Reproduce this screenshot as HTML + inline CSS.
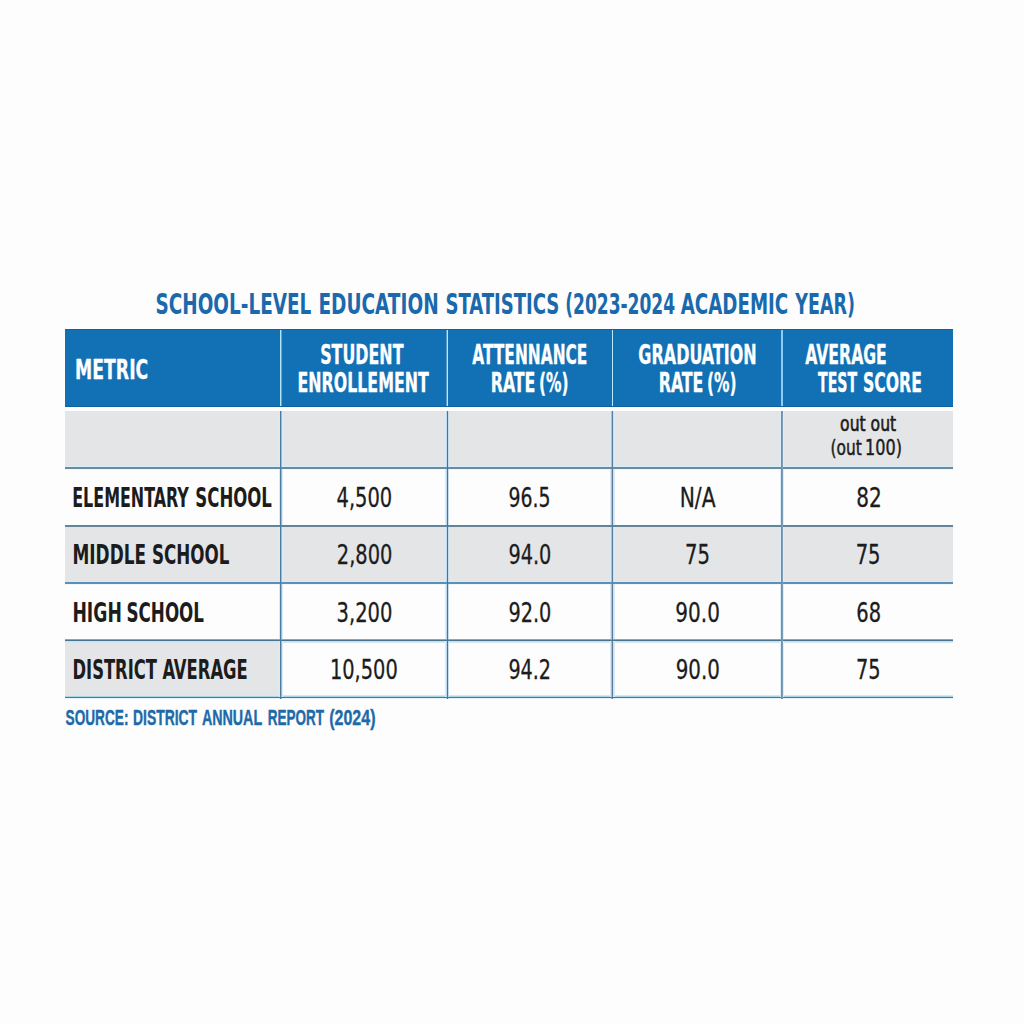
<!DOCTYPE html>
<html><head><meta charset="utf-8"><title>School-Level Education Statistics</title>
<style>
html,body{margin:0;padding:0;background:#fdfdfd;}
body{width:1024px;height:1024px;overflow:hidden;}
svg{display:block;font-family:"Liberation Sans",Arial,sans-serif;}
.b{font-family:"DejaVu Sans Condensed","DejaVu Sans","Liberation Sans",sans-serif;font-weight:bold;font-stretch:condensed;}
.r{font-family:"Liberation Sans",Arial,sans-serif;font-weight:normal;}
.lb{font-family:"Liberation Sans",Arial,sans-serif;font-weight:bold;}
.dr{font-family:"DejaVu Sans Condensed","DejaVu Sans",sans-serif;font-weight:normal;font-stretch:condensed;}
</style></head><body>
<svg width="1024" height="1024" viewBox="0 0 1024 1024">
<rect width="1024" height="1024" fill="#fdfdfd"/>
<g shape-rendering="crispEdges">
<rect x="65" y="329" width="888" height="78" fill="#1271b5"/>
<rect x="65" y="329" width="888" height="1" fill="#1063a0"/>
<rect x="65" y="406" width="888" height="1" fill="#0f609d"/>
<rect x="280" y="330" width="1" height="76" fill="#b0e4f8"/>
<rect x="281" y="330" width="1" height="76" fill="#6aa0cc"/>
<rect x="447" y="330" width="1" height="76" fill="#b5e8f8"/>
<rect x="446" y="330" width="1" height="76" fill="#5c9ccb"/>
<rect x="612" y="330" width="1" height="76" fill="#b8ecfa"/>
<rect x="781" y="330" width="1" height="76" fill="#8ccdf8"/>
<rect x="782" y="330" width="1" height="76" fill="#8ccdf8"/>
<rect x="65" y="411" width="888" height="55" fill="#e4e5e7"/>
<rect x="65" y="528" width="888" height="53" fill="#e4e5e7"/>
<rect x="65" y="642.5" width="214" height="52.5" fill="#e4e5e7"/>
<rect x="65" y="466" width="888" height="1" fill="#d8eef8"/>
<rect x="65" y="467" width="888" height="1" fill="#6a8ca3"/>
<rect x="65" y="468" width="888" height="1" fill="#688ba2"/>
<rect x="65" y="469" width="888" height="1" fill="#f0f8fb"/>
<rect x="65" y="525" width="888" height="1" fill="#5f8499"/>
<rect x="65" y="526" width="888" height="1" fill="#628799"/>
<rect x="65" y="527" width="888" height="1" fill="#d5e9f3"/>
<rect x="65" y="581" width="888" height="1" fill="#dbeaf5"/>
<rect x="65" y="582" width="888" height="1" fill="#5b8fb3"/>
<rect x="65" y="583" width="888" height="1" fill="#5e90b2"/>
<rect x="65" y="584" width="888" height="1" fill="#eef7fb"/>
<rect x="65" y="639" width="888" height="1" fill="#8aa8b8"/>
<rect x="65" y="640" width="888" height="1" fill="#4a7590"/>
<rect x="65" y="641" width="888" height="1" fill="#c3e2f5"/>
<rect x="65" y="642" width="888" height="1" fill="#d8e6ee"/>
<rect x="65" y="695" width="888" height="1" fill="#d5e8f2"/>
<rect x="65" y="696" width="888" height="1" fill="#a8d5ea"/>
<rect x="65" y="697" width="888" height="1" fill="#4a7b92"/>
<rect x="65" y="698" width="888" height="1" fill="#e8f2f8"/>
<rect x="279" y="411" width="1" height="288" fill="#dde9f3"/>
<rect x="281" y="411" width="1" height="288" fill="#8fc0e0"/>
<rect x="282" y="411" width="1" height="288" fill="#dde9f3"/>
<rect x="445" y="411" width="1" height="288" fill="#dceaf5"/>
<rect x="446" y="411" width="1" height="288" fill="#b8dcf5"/>
<rect x="448" y="411" width="1" height="288" fill="#c8dbe8"/>
<rect x="610" y="411" width="1" height="288" fill="#dde9f4"/>
<rect x="611" y="411" width="1" height="288" fill="#a9bfd3"/>
<rect x="613" y="411" width="1" height="288" fill="#c5e4fa"/>
<rect x="614" y="411" width="1" height="288" fill="#dde9f4"/>
<rect x="780" y="411" width="1" height="288" fill="#dceefa"/>
<rect x="783" y="411" width="1" height="288" fill="#dceefa"/>
<rect x="65" y="467" width="888" height="1" fill="#6a8ca3"/>
<rect x="65" y="468" width="888" height="1" fill="#688ba2"/>
<rect x="65" y="525" width="888" height="1" fill="#5f8499"/>
<rect x="65" y="526" width="888" height="1" fill="#628799"/>
<rect x="65" y="582" width="888" height="1" fill="#5b8fb3"/>
<rect x="65" y="583" width="888" height="1" fill="#5e90b2"/>
<rect x="65" y="639" width="888" height="1" fill="#8aa8b8"/>
<rect x="65" y="640" width="888" height="1" fill="#4a7590"/>
<rect x="65" y="697" width="888" height="1" fill="#4a7b92"/>
<rect x="280" y="411" width="1" height="288" fill="#4a7ba0"/>
<rect x="447" y="411" width="1" height="288" fill="#4a7494"/>
<rect x="612" y="411" width="1" height="288" fill="#5a7f9c"/>
<rect x="781" y="411" width="1" height="288" fill="#7090a8"/>
<rect x="782" y="411" width="1" height="288" fill="#7d9cb5"/>
</g>
<text class="b" x="155.52" y="313.70" textLength="155.80" lengthAdjust="spacingAndGlyphs" font-size="27.78" fill="#1a69ac">SCHOOL-LEVEL</text>
<text class="b" x="318.39" y="313.70" textLength="120.28" lengthAdjust="spacingAndGlyphs" font-size="27.78" fill="#1a69ac">EDUCATION</text>
<text class="b" x="445.44" y="313.70" textLength="113.94" lengthAdjust="spacingAndGlyphs" font-size="27.78" fill="#1a69ac">STATISTICS</text>
<text class="b" x="565.21" y="313.70" textLength="109.90" lengthAdjust="spacingAndGlyphs" font-size="27.78" fill="#1a69ac">(2023-2024</text>
<text class="b" x="680.70" y="313.70" textLength="107.53" lengthAdjust="spacingAndGlyphs" font-size="27.78" fill="#1a69ac">ACADEMIC</text>
<text class="b" x="795.30" y="313.70" textLength="59.61" lengthAdjust="spacingAndGlyphs" font-size="27.78" fill="#1a69ac">YEAR)</text>
<text class="b" x="75.10" y="378.50" textLength="73.17" lengthAdjust="spacingAndGlyphs" font-size="27.23" fill="#fff" stroke="#fff" stroke-width="0.3" stroke-linejoin="round">METRIC</text>
<text class="b" x="320.20" y="364.10" textLength="83.28" lengthAdjust="spacingAndGlyphs" font-size="25.74" fill="#fff" stroke="#fff" stroke-width="0.3" stroke-linejoin="round">STUDENT</text>
<text class="b" x="297.43" y="391.80" textLength="131.35" lengthAdjust="spacingAndGlyphs" font-size="25.87" fill="#fff" stroke="#fff" stroke-width="0.3" stroke-linejoin="round">ENROLLEMENT</text>
<text class="b" x="472.30" y="364.10" textLength="115.10" lengthAdjust="spacingAndGlyphs" font-size="25.74" fill="#fff" stroke="#fff" stroke-width="0.3" stroke-linejoin="round">ATTENNANCE</text>
<text class="b" x="490.73" y="391.80" textLength="44.69" lengthAdjust="spacingAndGlyphs" font-size="25.87" fill="#fff" stroke="#fff" stroke-width="0.3" stroke-linejoin="round">RATE</text>
<text class="b" x="538.93" y="391.80" textLength="29.52" lengthAdjust="spacingAndGlyphs" font-size="25.87" fill="#fff" stroke="#fff" stroke-width="0.3" stroke-linejoin="round">(%)</text>
<text class="b" x="638.34" y="364.10" textLength="118.30" lengthAdjust="spacingAndGlyphs" font-size="25.74" fill="#fff" stroke="#fff" stroke-width="0.3" stroke-linejoin="round">GRADUATION</text>
<text class="b" x="658.73" y="391.80" textLength="44.69" lengthAdjust="spacingAndGlyphs" font-size="25.87" fill="#fff" stroke="#fff" stroke-width="0.3" stroke-linejoin="round">RATE</text>
<text class="b" x="706.93" y="391.80" textLength="29.52" lengthAdjust="spacingAndGlyphs" font-size="25.87" fill="#fff" stroke="#fff" stroke-width="0.3" stroke-linejoin="round">(%)</text>
<text class="b" x="805.30" y="364.10" textLength="81.51" lengthAdjust="spacingAndGlyphs" font-size="25.74" fill="#fff" stroke="#fff" stroke-width="0.3" stroke-linejoin="round">AVERAGE</text>
<text class="b" x="818.00" y="391.80" textLength="39.27" lengthAdjust="spacingAndGlyphs" font-size="25.87" fill="#fff" stroke="#fff" stroke-width="0.3" stroke-linejoin="round">TEST</text>
<text class="b" x="862.91" y="391.80" textLength="59.00" lengthAdjust="spacingAndGlyphs" font-size="25.87" fill="#fff" stroke="#fff" stroke-width="0.3" stroke-linejoin="round">SCORE</text>
<text class="dr" x="840.09" y="430.90" textLength="25.57" lengthAdjust="spacingAndGlyphs" font-size="21.76" fill="#1c1c1c" stroke="#1c1c1c" stroke-width="0.6" stroke-linejoin="round">out</text>
<text class="dr" x="870.59" y="430.90" textLength="25.57" lengthAdjust="spacingAndGlyphs" font-size="21.76" fill="#1c1c1c" stroke="#1c1c1c" stroke-width="0.6" stroke-linejoin="round">out</text>
<text class="dr" x="830.53" y="455.30" textLength="31.22" lengthAdjust="spacingAndGlyphs" font-size="21.79" fill="#1c1c1c" stroke="#1c1c1c" stroke-width="0.45" stroke-linejoin="round">(out</text>
<text class="dr" x="865.03" y="455.30" textLength="36.92" lengthAdjust="spacingAndGlyphs" font-size="21.79" fill="#1c1c1c" stroke="#1c1c1c" stroke-width="0.45" stroke-linejoin="round">100)</text>
<text class="b" x="72.22" y="506.70" textLength="116.62" lengthAdjust="spacingAndGlyphs" font-size="26.14" fill="#1c1c1c">ELEMENTARY</text>
<text class="b" x="195.35" y="506.70" textLength="76.55" lengthAdjust="spacingAndGlyphs" font-size="26.14" fill="#1c1c1c">SCHOOL</text>
<text class="b" x="72.43" y="563.80" textLength="73.65" lengthAdjust="spacingAndGlyphs" font-size="26.96" fill="#1c1c1c">MIDDLE</text>
<text class="b" x="151.94" y="563.80" textLength="77.46" lengthAdjust="spacingAndGlyphs" font-size="26.96" fill="#1c1c1c">SCHOOL</text>
<text class="b" x="72.40" y="621.70" textLength="49.45" lengthAdjust="spacingAndGlyphs" font-size="27.23" fill="#1c1c1c">HIGH</text>
<text class="b" x="126.54" y="621.70" textLength="77.46" lengthAdjust="spacingAndGlyphs" font-size="27.23" fill="#1c1c1c">SCHOOL</text>
<text class="b" x="72.48" y="678.50" textLength="84.40" lengthAdjust="spacingAndGlyphs" font-size="27.10" fill="#1c1c1c">DISTRICT</text>
<text class="b" x="162.40" y="678.50" textLength="85.35" lengthAdjust="spacingAndGlyphs" font-size="27.10" fill="#1c1c1c">AVERAGE</text>
<text class="dr" x="336.52" y="506.70" textLength="55.70" lengthAdjust="spacingAndGlyphs" font-size="26.14" fill="#1c1c1c" stroke="#1c1c1c" stroke-width="0.3" stroke-linejoin="round">4,500</text>
<text class="dr" x="336.85" y="563.80" textLength="55.57" lengthAdjust="spacingAndGlyphs" font-size="26.96" fill="#1c1c1c" stroke="#1c1c1c" stroke-width="0.3" stroke-linejoin="round">2,800</text>
<text class="dr" x="336.54" y="621.70" textLength="55.89" lengthAdjust="spacingAndGlyphs" font-size="27.23" fill="#1c1c1c" stroke="#1c1c1c" stroke-width="0.3" stroke-linejoin="round">3,200</text>
<text class="dr" x="329.98" y="678.50" textLength="67.74" lengthAdjust="spacingAndGlyphs" font-size="27.10" fill="#1c1c1c" stroke="#1c1c1c" stroke-width="0.3" stroke-linejoin="round">10,500</text>
<text class="dr" x="508.42" y="506.80" textLength="42.00" lengthAdjust="spacingAndGlyphs" font-size="26.55" fill="#1c1c1c" stroke="#1c1c1c" stroke-width="0.3" stroke-linejoin="round">96.5</text>
<text class="dr" x="508.40" y="563.80" textLength="42.92" lengthAdjust="spacingAndGlyphs" font-size="26.96" fill="#1c1c1c" stroke="#1c1c1c" stroke-width="0.3" stroke-linejoin="round">94.0</text>
<text class="dr" x="508.40" y="621.70" textLength="42.92" lengthAdjust="spacingAndGlyphs" font-size="27.23" fill="#1c1c1c" stroke="#1c1c1c" stroke-width="0.3" stroke-linejoin="round">92.0</text>
<text class="dr" x="508.40" y="678.50" textLength="42.67" lengthAdjust="spacingAndGlyphs" font-size="27.10" fill="#1c1c1c" stroke="#1c1c1c" stroke-width="0.3" stroke-linejoin="round">94.2</text>
<text class="dr" x="679.64" y="506.80" textLength="35.89" lengthAdjust="spacingAndGlyphs" font-size="26.55" fill="#1c1c1c" stroke="#1c1c1c" stroke-width="0.3" stroke-linejoin="round">N/A</text>
<text class="dr" x="685.04" y="563.80" textLength="24.94" lengthAdjust="spacingAndGlyphs" font-size="26.96" fill="#1c1c1c" stroke="#1c1c1c" stroke-width="0.3" stroke-linejoin="round">75</text>
<text class="dr" x="675.36" y="621.70" textLength="44.50" lengthAdjust="spacingAndGlyphs" font-size="27.23" fill="#1c1c1c" stroke="#1c1c1c" stroke-width="0.3" stroke-linejoin="round">90.0</text>
<text class="dr" x="675.67" y="678.50" textLength="44.18" lengthAdjust="spacingAndGlyphs" font-size="27.10" fill="#1c1c1c" stroke="#1c1c1c" stroke-width="0.3" stroke-linejoin="round">90.0</text>
<text class="dr" x="856.26" y="506.80" textLength="25.50" lengthAdjust="spacingAndGlyphs" font-size="26.55" fill="#1c1c1c" stroke="#1c1c1c" stroke-width="0.3" stroke-linejoin="round">82</text>
<text class="dr" x="855.64" y="563.80" textLength="24.94" lengthAdjust="spacingAndGlyphs" font-size="26.96" fill="#1c1c1c" stroke="#1c1c1c" stroke-width="0.3" stroke-linejoin="round">75</text>
<text class="dr" x="856.25" y="621.70" textLength="24.78" lengthAdjust="spacingAndGlyphs" font-size="27.23" fill="#1c1c1c" stroke="#1c1c1c" stroke-width="0.3" stroke-linejoin="round">68</text>
<text class="dr" x="855.96" y="678.50" textLength="24.60" lengthAdjust="spacingAndGlyphs" font-size="27.10" fill="#1c1c1c" stroke="#1c1c1c" stroke-width="0.3" stroke-linejoin="round">75</text>
<text class="lb" x="65.59" y="724.80" textLength="62.84" lengthAdjust="spacingAndGlyphs" font-size="21.19" fill="#1e6aa9" stroke="#1e6aa9" stroke-width="0.4" stroke-linejoin="round">SOURCE:</text>
<text class="lb" x="133.03" y="724.80" textLength="63.99" lengthAdjust="spacingAndGlyphs" font-size="21.19" fill="#1e6aa9" stroke="#1e6aa9" stroke-width="0.4" stroke-linejoin="round">DISTRICT</text>
<text class="lb" x="201.88" y="724.80" textLength="60.27" lengthAdjust="spacingAndGlyphs" font-size="21.19" fill="#1e6aa9" stroke="#1e6aa9" stroke-width="0.4" stroke-linejoin="round">ANNUAL</text>
<text class="lb" x="267.66" y="724.80" textLength="56.26" lengthAdjust="spacingAndGlyphs" font-size="21.19" fill="#1e6aa9" stroke="#1e6aa9" stroke-width="0.4" stroke-linejoin="round">REPORT</text>
<text class="lb" x="329.25" y="724.80" textLength="46.23" lengthAdjust="spacingAndGlyphs" font-size="21.19" fill="#1e6aa9" stroke="#1e6aa9" stroke-width="0.4" stroke-linejoin="round">(2024)</text>
</svg>
</body></html>
